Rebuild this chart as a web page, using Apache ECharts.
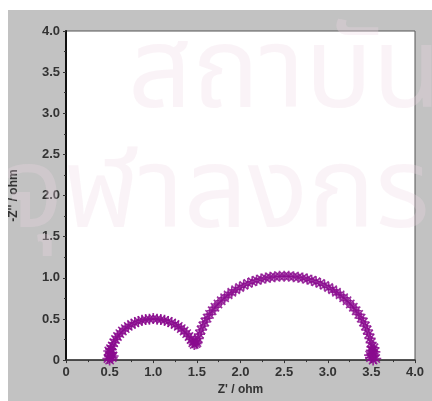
<!DOCTYPE html>
<html>
<head>
<meta charset="utf-8">
<style>
  html, body { margin: 0; padding: 0; background: #fff; }
  #main { width: 432px; height: 401px; }
</style>
<script src="https://cdn.jsdelivr.net/npm/echarts@6/dist/echarts.min.js"></script>
</head>
<body>
<div id="main"></div>
<script>
// Z' (ohm) values
var zReal = [
  0.48, 0.53, 0.50, 0.52, 0.49, 0.54, 0.51,
  0.50, 0.502, 0.508, 0.517, 0.530, 0.547, 0.567, 0.590, 0.617, 0.646,
  0.679, 0.713, 0.750, 0.789, 0.829, 0.871, 0.913, 0.956, 1.000, 1.044,
  1.087, 1.129, 1.171, 1.211, 1.250, 1.287, 1.321, 1.354, 1.383, 1.410,
  1.433, 1.453, 1.47, 1.49, 1.48,
  1.502, 1.515, 1.530, 1.548, 1.568, 1.591, 1.617, 1.645, 1.675, 1.707,
  1.742, 1.779, 1.818, 1.858, 1.900, 1.944, 1.990, 2.037, 2.085, 2.134,
  2.185, 2.236, 2.288, 2.340, 2.393, 2.447, 2.500, 2.553, 2.607, 2.660,
  2.712, 2.764, 2.815, 2.866, 2.915, 2.963, 3.010, 3.056, 3.100, 3.142,
  3.182, 3.221, 3.258, 3.293, 3.325, 3.355, 3.383, 3.409, 3.432, 3.452,
  3.470, 3.485, 3.498, 3.507, 3.514, 3.519, 3.520,
  3.49, 3.55, 3.52, 3.50, 3.54, 3.53, 3.48
];
// -Z'' (ohm) values
var zImag = [
  0.02, 0.03, 0.06, 0.09, 0.11, 0.05, 0.14,
  0.00, 0.044, 0.087, 0.129, 0.171, 0.211, 0.250, 0.287, 0.321, 0.354,
  0.383, 0.410, 0.433, 0.453, 0.470, 0.483, 0.492, 0.498, 0.505, 0.498,
  0.492, 0.483, 0.470, 0.453, 0.433, 0.410, 0.383, 0.354, 0.321, 0.287,
  0.250, 0.211, 0.19, 0.20, 0.23,
  0.212, 0.264, 0.315, 0.366, 0.415, 0.463, 0.510, 0.555, 0.600, 0.642,
  0.682, 0.721, 0.758, 0.793, 0.825, 0.855, 0.883, 0.909, 0.932, 0.952,
  0.970, 0.985, 0.998, 1.007, 1.014, 1.019, 1.020, 1.019, 1.014, 1.007,
  0.998, 0.985, 0.970, 0.952, 0.932, 0.909, 0.883, 0.855, 0.825, 0.793,
  0.758, 0.721, 0.682, 0.642, 0.600, 0.555, 0.510, 0.463, 0.415, 0.366,
  0.315, 0.264, 0.212, 0.160, 0.107, 0.053, 0.000,
  0.03, 0.02, 0.08, 0.12, 0.10, 0.15, 0.06
];
var xTickLabels = ['0', '0.5', '1.0', '1.5', '2.0', '2.5', '3.0', '3.5', '4.0'];
var yTickLabels = ['0', '0.5', '1.0', '1.5', '2.0', '2.5', '3.0', '3.5', '4.0'];

var points = zReal.map(function (x, i) { return [x, zImag[i]] });

// asterisk marker, same winding on every part
var star = 'path://M8.5 0H11.5V8.5H20V11.5H11.5V20H8.5V11.5H0V8.5H8.5Z' +
  'M1.5 3.5L3.5 1.5L18.5 16.5L16.5 18.5Z M16.5 1.5L18.5 3.5L3.5 18.5L1.5 16.5Z';

var labelStyle = {
  color: '#333',
  fontFamily: 'Liberation Sans',
  fontWeight: 'bold',
  fontSize: 13
};
var wmFont = '112px "Noto Sans Thai", "Loma", "Garuda", sans-serif';
var wmFill = 'rgba(240,215,230,0.3)';

var chart = echarts.init(document.getElementById('main'));
chart.setOption({
  backgroundColor: '#fff',
  animation: false,
  graphic: [
    { type: 'rect', left: 8, top: 10, shape: { width: 424, height: 391 },
      style: { fill: '#c2c2c2' }, z: -10 },
    { type: 'text', left: 128, top: 28, z: 1,
      style: { text: 'สถาบันวิทยบริการ', font: wmFont, fill: wmFill } },
    { type: 'text', left: 4, top: 148, z: 1,
      style: { text: 'จุฬาลงกรณ์มหาวิทยาลัย', font: wmFont, fill: wmFill } }
  ],
  grid: {
    left: 66, top: 31, right: 17, bottom: 39,
    show: true, backgroundColor: '#fff', borderColor: '#555', borderWidth: 1
  },
  xAxis: {
    type: 'value', min: 0, max: 4, interval: 0.5,
    name: "Z' / ohm", nameLocation: 'middle', nameGap: 22,
    nameTextStyle: Object.assign({}, labelStyle, { fontSize: 12 }),
    axisLine: { lineStyle: { color: '#333', width: 1.5 } },
    axisTick: { length: 3, lineStyle: { color: '#333' } },
    minorTick: { show: true, splitNumber: 2, length: 2, lineStyle: { color: '#333' } },
    axisLabel: Object.assign({ margin: 6, formatter: function (v) { return xTickLabels[Math.round(v / 0.5)] } }, labelStyle),
    splitLine: { show: false }
  },
  yAxis: {
    type: 'value', min: 0, max: 4, interval: 0.5,
    name: "-Z'' / ohm", nameLocation: 'middle', nameGap: 46, nameRotate: 90,
    nameTextStyle: Object.assign({}, labelStyle, { fontSize: 12 }),
    axisLine: { lineStyle: { color: '#111', width: 2 } },
    axisTick: { length: 3, lineStyle: { color: '#333' } },
    minorTick: { show: true, splitNumber: 2, length: 2, lineStyle: { color: '#333' } },
    axisLabel: Object.assign({ margin: 6, formatter: function (v) { return yTickLabels[Math.round(v / 0.5)] } }, labelStyle),
    splitLine: { show: false }
  },
  series: [{
    type: 'scatter',
    data: points,
    symbol: star,
    symbolSize: 11,
    itemStyle: { color: '#8a0a8e', opacity: 0.85 },
    z: 5
  }]
});
</script>
</body>
</html>
